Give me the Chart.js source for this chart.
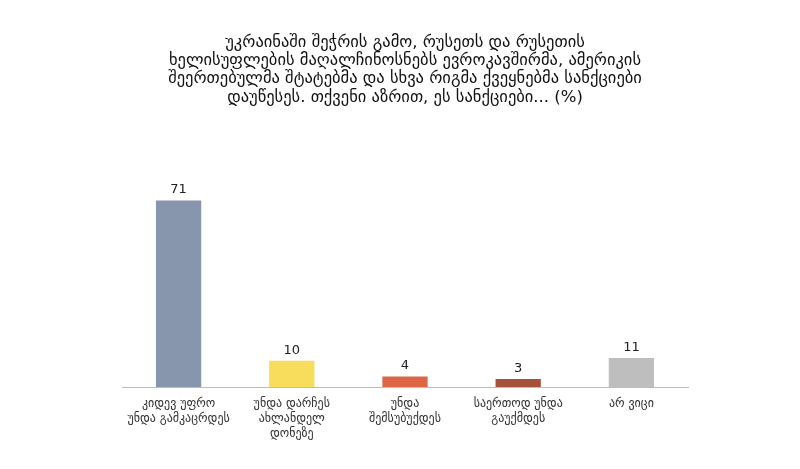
<!DOCTYPE html>
<html lang="ka">
<head>
    <meta charset="UTF-8">
    <title>სანქციები</title>
    <style>
        html, body { margin: 0; padding: 0; background: #fff; }
        .chart { width: 800px; height: 469px; }
    </style>
</head>
<body>
    <div class="chart">
        <canvas id="sanctionsChart"></canvas>
    </div>

    <script src="https://cdn.jsdelivr.net/npm/chart.js"></script>
    <script>
        const titleLines = [
            'უკრაინაში შეჭრის გამო, რუსეთს და რუსეთის',
            'ხელისუფლების მაღალჩინოსნებს ევროკავშირმა, ამერიკის',
            'შეერთებულმა შტატებმა და სხვა რიგმა ქვეყნებმა სანქციები',
            'დაუწესეს. თქვენი აზრით, ეს სანქციები... (%)'
        ];
        const categories = [
            ['კიდევ უფრო', 'უნდა გამკაცრდეს'],
            ['უნდა დარჩეს', 'ახლანდელ', 'დონეზე'],
            ['უნდა', 'შემსუბუქდეს'],
            ['საერთოდ უნდა', 'გაუქმდეს'],
            'არ ვიცი'
        ];
        const values = [71, 10, 4, 3, 11];
        const barColors = ['#8795ad', '#f8dc5b', '#dc6646', '#a6523a', '#bebebe'];

        const fontFamily = '"DejaVu Sans", sans-serif';

        // write the number above each bar
        const valueLabels = {
            id: 'valueLabels',
            afterDatasetsDraw(chart) {
                const ctx = chart.ctx;
                const meta = chart.getDatasetMeta(0);
                ctx.save();
                ctx.font = '13px ' + fontFamily;
                ctx.fillStyle = '#222';
                ctx.textAlign = 'center';
                ctx.textBaseline = 'bottom';
                meta.data.forEach((bar, i) => {
                    ctx.fillText(values[i], bar.x, bar.y - 4);
                });
                ctx.restore();
            }
        };

        const ctx = document.getElementById('sanctionsChart');
        new Chart(ctx, {
            type: 'bar',
            data: {
                labels: categories,
                datasets: [{
                    data: values,
                    backgroundColor: barColors,
                    borderWidth: 0,
                    barPercentage: 0.4,
                    categoryPercentage: 1.0
                }]
            },
            options: {
                responsive: true,
                maintainAspectRatio: false,
                animation: false,
                layout: {
                    padding: { left: 122, right: 112, top: 0, bottom: 27 }
                },
                scales: {
                    x: {
                        grid: { display: false },
                        border: { color: '#bdbdbd', width: 1 },
                        ticks: {
                            color: '#333',
                            font: { family: fontFamily, size: 12, lineHeight: 1.25 },
                            padding: 1,
                            maxRotation: 0,
                            autoSkip: false
                        }
                    },
                    y: {
                        display: false,
                        min: 0,
                        max: 80
                    }
                },
                plugins: {
                    legend: { display: false },
                    tooltip: { enabled: false },
                    title: {
                        display: true,
                        text: titleLines,
                        color: '#111',
                        font: { family: fontFamily, size: 16.5, weight: 'normal', lineHeight: 1.12 },
                        padding: { top: 33, bottom: 70 }
                    }
                }
            },
            plugins: [valueLabels]
        });
    </script>
</body>
</html>
